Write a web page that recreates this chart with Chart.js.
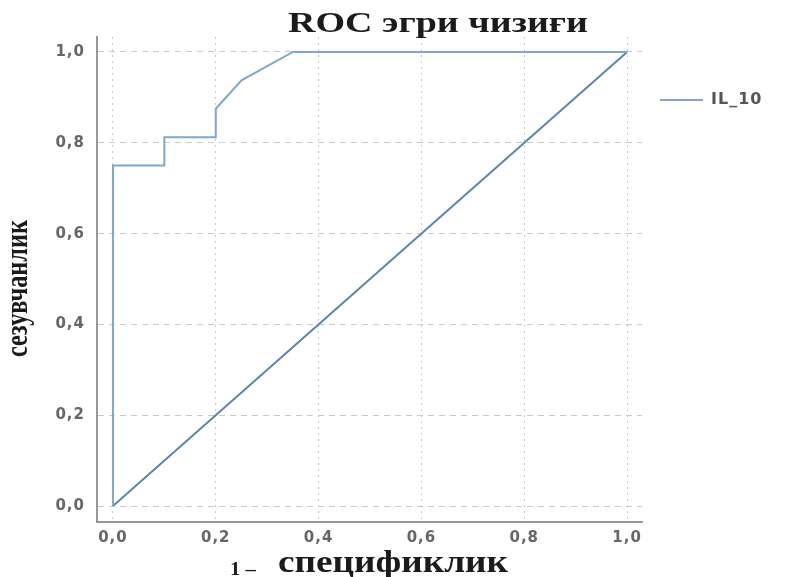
<!DOCTYPE html>
<html>
<head>
<meta charset="utf-8">
<script src="https://cdn.jsdelivr.net/npm/chart.js@4.4.1/dist/chart.umd.min.js"></script>
<style>
  html, body { margin: 0; padding: 0; background: #fff; }
  canvas { display: block; }
</style>
</head>
<body>
<canvas id="roc" width="786" height="577"></canvas>
<script>
// ROC curve for IL_10
const fprValues = [0, 0, 0.1, 0.1, 0.2, 0.2, 0.25, 0.35, 1]
const tprValues = [0, 0.75, 0.75, 0.8125, 0.8125, 0.875, 0.9375, 1, 1]
// reference diagonal
const refFpr = [0, 1]
const refTpr = [0, 1]
const tickValues = [0, 0.2, 0.4, 0.6, 0.8, 1]
const seriesName = 'IL_10'

const toPoints = (xs, ys) => xs.map((x, i) => ({ x: x, y: ys[i] }))
const fmt = v => v.toFixed(1).replace('.', ',')

// draw text squeezed/stretched to a given width (the reference is stretched)
function fitText(ctx, text, font, x, y, width, rotate) {
  ctx.save()
  ctx.letterSpacing = '0px'
  ctx.font = font
  const w = ctx.measureText(text).width
  ctx.translate(x, y)
  if (rotate) ctx.rotate(-Math.PI / 2)
  ctx.scale(width / w, 1)
  ctx.fillStyle = '#1b1b1b'
  ctx.textAlign = 'left'
  ctx.textBaseline = 'alphabetic'
  ctx.fillText(text, 0, 0)
  ctx.restore()
}

// slightly wider tick / legend text like the stretched original
const spacing = {
  id: 'spacing',
  beforeDraw(chart) { chart.ctx.letterSpacing = '1px' }
}

const titles = {
  id: 'titles',
  afterDraw(chart) {
    const ctx = chart.ctx
    fitText(ctx, 'ROC эгри чизиғи', 'bold 30px "Liberation Serif"', 288, 32, 300)
    fitText(ctx, 'сезувчанлик', 'bold 31px "Liberation Serif"', 27, 357, 137, true)
    fitText(ctx, '1 –', 'bold 19px "Liberation Serif"', 230, 575, 26)
    fitText(ctx, 'спецификлик', 'bold 31px "Liberation Serif"', 278, 572, 230)
  }
}

const legendWidth = {
  id: 'legendWidth',
  afterInit(chart) {
    const lg = chart.legend
    const fit = lg.fit.bind(lg)
    lg.fit = function () { fit(); this.width = 144 }
  }
}

const tickFont = { family: 'DejaVu Sans', size: 15, weight: 'bold' }

new Chart(document.getElementById('roc'), {
  type: 'line',
  data: {
    datasets: [{
      label: seriesName,
      data: toPoints(fprValues, tprValues),
      borderColor: '#80a6cd',
      borderWidth: 2,
      pointRadius: 0,
      pointStyle: 'line',
      tension: 0,
      order: 1
    }, {
      label: 'ref',
      data: toPoints(refFpr, refTpr),
      borderColor: '#5a84b2',
      borderWidth: 2,
      pointRadius: 0,
      tension: 0,
      order: 2
    }]
  },
  options: {
    responsive: false,
    animation: false,
    layout: { padding: { top: 37, left: 0, right: 0, bottom: 0 } },
    plugins: {
      title: { display: false },
      tooltip: { enabled: false },
      legend: {
        position: 'right',
        align: 'start',
        title: { display: true, text: '', font: { size: 12, lineHeight: 1 }, padding: { top: 25, bottom: 0 } },
        labels: {
          usePointStyle: true,
          pointStyleWidth: 43,
          padding: 18,
          color: '#555',
          font: { family: 'DejaVu Sans', size: 16, weight: 'bold' },
          filter: item => item.datasetIndex === 0
        }
      }
    },
    scales: {
      x: {
        type: 'linear',
        min: -0.031,
        max: 1.029,
        afterBuildTicks: s => { s.ticks = tickValues.map(v => ({ value: v })) },
        afterFit: s => { s.height = 55 },
        grid: { color: '#c9c9c9', drawTicks: false },
        border: { color: '#999', width: 2, dash: [2, 4] },
        ticks: { padding: 7, color: '#666', font: tickFont, callback: v => fmt(v) }
      },
      y: {
        type: 'linear',
        min: -0.035,
        max: 1.033,
        afterBuildTicks: s => { s.ticks = tickValues.map(v => ({ value: v })) },
        afterFit: s => { s.width = 97 },
        grid: { color: '#c9c9c9', drawTicks: false },
        border: { color: '#999', width: 2, dash: [6, 5] },
        ticks: { padding: 12, color: '#666', font: tickFont, callback: v => fmt(v) }
      }
    }
  },
  plugins: [legendWidth, spacing, titles]
})
</script>
</body>
</html>
